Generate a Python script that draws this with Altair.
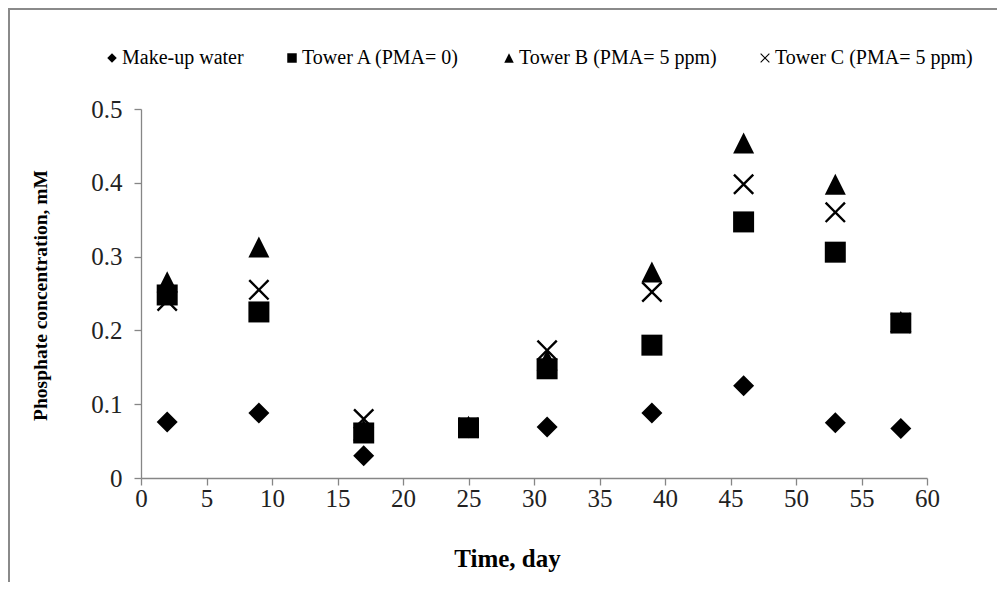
import altair as alt
import pandas as pd

days = [2, 9, 17, 25, 31, 39, 46, 53, 58]
makeup_water = [0.076, 0.088, 0.030, 0.068, 0.069, 0.088, 0.125, 0.075, 0.067]
tower_a = [0.248, 0.225, 0.061, 0.068, 0.148, 0.180, 0.347, 0.306, 0.210]
tower_b = [0.266, 0.313, 0.065, 0.070, 0.160, 0.279, 0.454, 0.398, 0.212]
tower_c = [0.240, 0.255, 0.080, 0.068, 0.173, 0.252, 0.398, 0.360, 0.210]

series_names = ["Make-up water", "Tower A (PMA= 0)", "Tower B (PMA= 5 ppm)", "Tower C (PMA= 5 ppm)"]
series_values = [makeup_water, tower_a, tower_b, tower_c]

x_ticks = list(range(0, 61, 5))
y_ticks = [0, 0.1, 0.2, 0.3, 0.4, 0.5]

rows = []
for name, vals in zip(series_names, series_values):
    for d, v in zip(days, vals):
        rows.append({"day": d, "value": v, "series": name})
df = pd.DataFrame(rows)

a = 0.16
x_path = (
    f"M-1,{-1+a}L{-1+a},-1L0,{-a}L{1-a},-1L1,{-1+a}L{a},0L1,{1-a}L{1-a},1L0,{a}"
    f"L{-1+a},1L-1,{1-a}L{-a},0Z"
)
tri_path = "M0,-1L1,1L-1,1Z"
shapes = ["diamond", "square", tri_path, x_path]

FONT = "Liberation Serif"

points = alt.Chart(df).mark_point(filled=True, size=441, opacity=1, color="black").encode(
    x=alt.X("day:Q", scale=alt.Scale(domain=[0, 60], nice=False),
            axis=alt.Axis(values=x_ticks, title="Time, day", grid=False,
                          titleX=366, titleY=80, titleBaseline="middle",
                          titleFontSize=25,
                          labelFont=FONT, labelFontSize=25,
                          labelPadding=1, labelFlush=False, labelOverlap=False)),
    y=alt.Y("value:Q", scale=alt.Scale(domain=[0, 0.5], nice=False),
            axis=alt.Axis(values=y_ticks, format=".1~f", title="Phosphate concentration, mM",
                          grid=False, titleX=-101, titleY=186, titleBaseline="middle",
                          titleFontSize=19.5,
                          labelFont=FONT, labelFontSize=25,
                          labelPadding=12, labelFlush=False, labelOverlap=False)),
    shape=alt.Shape("series:N", scale=alt.Scale(domain=series_names, range=shapes),
                    legend=alt.Legend(title=None, orient="none", direction="horizontal",
                                      legendX=-39, legendY=-61, symbolSize=90,
                                      symbolFillColor="black", symbolStrokeWidth=0,
                                      labelFont=FONT, labelFontSize=20, labelColor="black",
                                      labelLimit=0, labelOffset=0, columnPadding=38,
                                      padding=0)),
)

frame_data = alt.Data(values=[{"k": 1}])
left_line = alt.Chart(frame_data).mark_rule(color="#8a8a8a", strokeWidth=2).encode(
    x=alt.value(-132), y=alt.value(-101), y2=alt.value(485))
top_line = alt.Chart(frame_data).mark_rule(color="#8a8a8a", strokeWidth=2).encode(
    x=alt.value(-133), x2=alt.value(870), y=alt.value(-100))

chart = alt.layer(left_line, top_line, points).properties(
    width=786, height=369,
    padding={"left": 133, "top": 101, "right": 70, "bottom": 104},
    autosize="none",
).configure_view(stroke=None).configure_axis(
    domainColor="#868686", tickColor="#868686", tickSize=7, domainWidth=1.3, tickWidth=1.3,
    labelFont=FONT, labelColor="#222222",
    titleFont=FONT, titleFontWeight="bold", titleColor="black",
)

chart.save("out.html", embed_options={"renderer": "svg", "actions": False})
